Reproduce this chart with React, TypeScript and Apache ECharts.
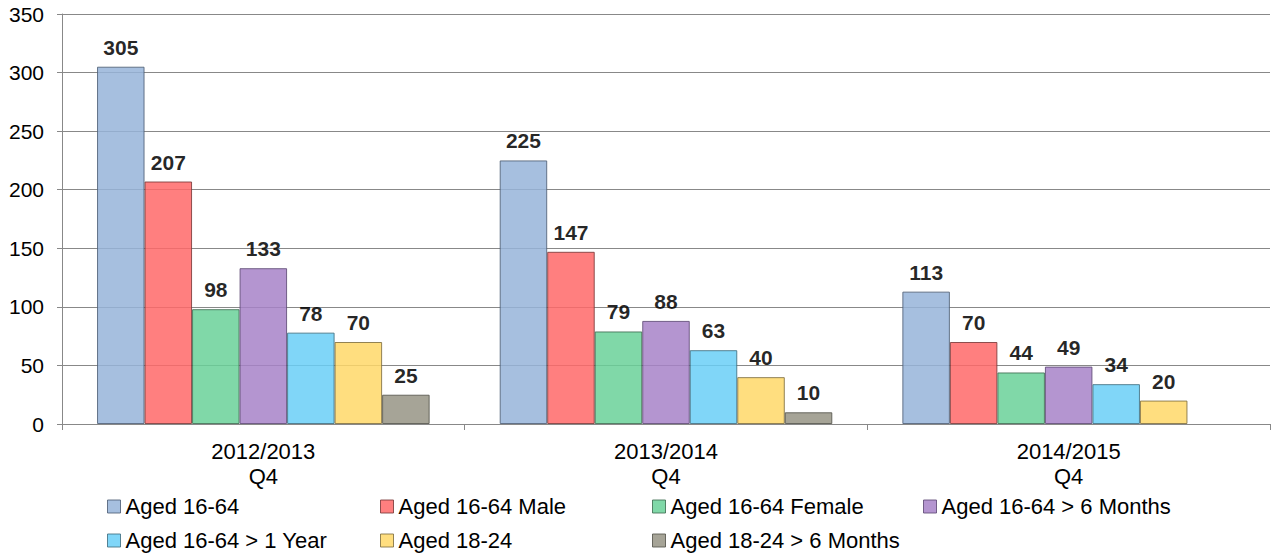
import React, { useEffect, useRef } from "react";
import * as echarts from "echarts";

const categories = ["2012/2013\nQ4", "2013/2014\nQ4", "2014/2015\nQ4"];
const seriesNames = [
  "Aged 16-64",
  "Aged 16-64 Male",
  "Aged 16-64 Female",
  "Aged 16-64 > 6 Months",
  "Aged 16-64 > 1 Year",
  "Aged 18-24",
  "Aged 18-24 > 6 Months",
];
const aged1664 = [305, 225, 113];
const aged1664Male = [207, 147, 70];
const aged1664Female = [98, 79, 44];
const aged1664Over6m = [133, 88, 49];
const aged1664Over1y = [78, 63, 34];
const aged1824 = [70, 40, 20];
const aged1824Over6m = [25, 10, null];
const yTicks = [0, 50, 100, 150, 200, 250, 300, 350];

const allValues = [aged1664, aged1664Male, aged1664Female, aged1664Over6m, aged1664Over1y, aged1824, aged1824Over6m];
const fills = ["#97b4d9", "#ff6969", "#6ad199", "#a782c8", "#6acff7", "#ffd869", "#969485"];
const borders = ["#4f5f75", "#7a3a3a", "#3f6e52", "#5e4a75", "#3f6e80", "#7f6e3f", "#55554c"];

const legendPos = [
  [107, 494], [380, 494], [652, 494], [923, 494],
  [107, 528], [380, 528], [652, 528],
];

export default function App() {
  const ref = useRef<HTMLDivElement>(null);
  useEffect(() => {
    if (!ref.current) return;
    const chart = echarts.init(ref.current, undefined, { renderer: "svg" });
    const font = "'Liberation Sans', Arial, sans-serif";
    chart.setOption({
      animation: false,
      grid: { left: 62, right: 2, top: 14, bottom: 133, containLabel: false },
      legend: seriesNames.map((n, i) => ({
        data: [{ name: n, icon: "rect" }],
        left: legendPos[i][0],
        top: legendPos[i][1],
        padding: 0,
        itemWidth: 13,
        itemHeight: 13,
        itemGap: 0,
        itemTextGap: 5,
        itemStyle: { borderWidth: 1 },
        textStyle: { fontFamily: font, fontSize: 22, lineHeight: 25, color: "#000" },
        selectedMode: false,
      })),
      xAxis: {
        type: "category",
        data: categories,
        axisLine: { show: true, lineStyle: { color: "#888", width: 1 } },
        axisTick: { show: true, length: 6, lineStyle: { color: "#888" } },
        axisLabel: { fontFamily: font, fontSize: 22, color: "#000", lineHeight: 25, margin: 15 },
      },
      yAxis: {
        type: "value",
        min: 0,
        max: 350,
        interval: 50,
        axisLine: { show: true, lineStyle: { color: "#888" } },
        axisTick: { show: true, length: 5, lineStyle: { color: "#888" } },
        splitLine: { show: true, lineStyle: { color: "#888", width: 1 } },
        axisLabel: {
          fontFamily: font,
          fontSize: 21,
          color: "#000",
          margin: 18,
          formatter: (v: number) => (yTicks.includes(v) ? String(v) : ""),
        },
      },
      series: seriesNames.map((n, i) => ({
        name: n,
        type: "bar",
        data: allValues[i],
        barGap: "0%",
        barCategoryGap: "17.4%",
        itemStyle: { color: fills[i], borderColor: borders[i], borderWidth: 1, opacity: 0.85 },
        label: {
          show: true,
          position: "top",
          distance: 9,
          fontFamily: font,
          fontSize: 21,
          fontWeight: "bold",
          color: "#000",
        },
      })),
    });
    return () => chart.dispose();
  }, []);
  return (
    <div
      ref={ref}
      style={{ position: "fixed", left: 0, top: 0, width: 1272, height: 557, background: "#fff" }}
    />
  );
}
